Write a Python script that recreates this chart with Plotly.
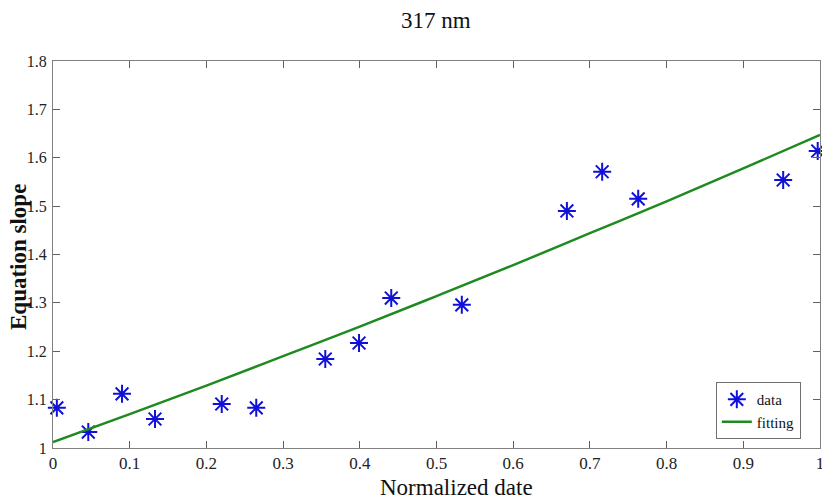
import plotly.graph_objects as go

# measured data points
data_x = [0.005, 0.046, 0.090, 0.133, 0.220, 0.265, 0.355, 0.399, 0.441, 0.533,
          0.670, 0.716, 0.763, 0.952, 0.997]
data_y = [1.083, 1.033, 1.112, 1.060, 1.091, 1.083, 1.184, 1.217, 1.310, 1.296,
          1.490, 1.571, 1.515, 1.554, 1.614]

# fitting curve
fit_x = [0.0, 0.1, 0.2, 0.3, 0.4, 0.5, 0.6, 0.7, 0.8, 0.9, 1.0]
fit_y = [1.012, 1.070, 1.129, 1.190, 1.251, 1.314, 1.378, 1.444, 1.510, 1.578, 1.647]

x_ticks = [0, 0.1, 0.2, 0.3, 0.4, 0.5, 0.6, 0.7, 0.8, 0.9, 1]
x_tick_labels = ["0", "0.1", "0.2", "0.3", "0.4", "0.5", "0.6", "0.7", "0.8", "0.9", "1"]
y_ticks = [1, 1.1, 1.2, 1.3, 1.4, 1.5, 1.6, 1.7, 1.8]
y_tick_labels = ["1", "1.1", "1.2", "1.3", "1.4", "1.5", "1.6", "1.7", "1.8"]

FONT = "Liberation Serif"
W, H = 822, 502
L, R, T, B = 53, 2, 61, 54

fig = go.Figure()
fig.add_trace(go.Scatter(
    x=data_x, y=data_y, mode="markers", name="data", cliponaxis=False,
    marker=dict(symbol="asterisk-open", size=15, color="#1010d8",
                line=dict(width=2, color="#1010d8")),
))
fig.add_trace(go.Scatter(
    x=fit_x, y=fit_y, mode="lines", name="fitting",
    line=dict(color="#1f8a1f", width=2.5, shape="spline"),
))

axis_common = dict(
    showgrid=False, zeroline=False, showline=True, linecolor="#808080", linewidth=1,
    mirror="ticks", ticks="inside", ticklen=7, tickcolor="#606060",
    automargin=False, ticklabeloverflow="allow",
)

fig.update_layout(
    width=W, height=H,
    margin=dict(l=L, r=R, t=T, b=B),
    paper_bgcolor="white", plot_bgcolor="white",
    xaxis=dict(range=[0, 1], tickvals=x_ticks, ticktext=x_tick_labels,
               tickfont=dict(family=FONT, size=17, color="#222"),
               **axis_common),
    yaxis=dict(range=[1, 1.8], tickvals=y_ticks, ticktext=y_tick_labels,
               tickfont=dict(family=FONT, size=16, color="#222"),
               ticklabelstandoff=2,
               **axis_common),
    legend=dict(x=0.975, y=0.023, xanchor="right", yanchor="bottom",
                bgcolor="white", bordercolor="#707070", borderwidth=1,
                font=dict(family=FONT, size=15, color="#111"),
                itemwidth=30, tracegroupgap=0),
    showlegend=True,
)

# pixel helpers for the text positions
def px(xp):
    return (xp - L) / (W - L - R)

def py(yp):
    return (H - B - yp) / (H - T - B)

fig.add_annotation(text="317 nm", x=px(436), y=py(21), xref="paper", yref="paper",
                   showarrow=False, xanchor="center", yanchor="middle",
                   font=dict(family=FONT, size=23, color="#111"))
fig.add_annotation(text="Normalized date", x=px(456), y=py(487), xref="paper", yref="paper",
                   showarrow=False, xanchor="center", yanchor="middle",
                   font=dict(family=FONT, size=23, color="#111"))
fig.add_annotation(text="<b>Equation slope</b>", x=px(18), y=py(257), xref="paper", yref="paper",
                   showarrow=False, xanchor="center", yanchor="middle", textangle=-90,
                   font=dict(family=FONT, size=23, color="#111"))

fig.write_html(
    "out.html",
    config={"displayModeBar": False},
    post_script="document.body.style.margin='0';"
                "document.documentElement.style.overflow='hidden';"
                "document.body.style.overflow='hidden';",
)
